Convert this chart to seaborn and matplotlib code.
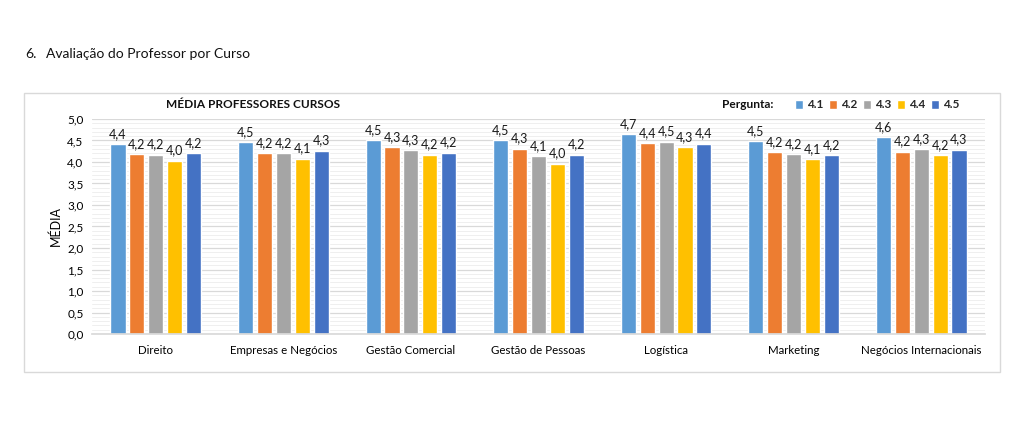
import matplotlib
matplotlib.use("Agg")
import matplotlib.pyplot as plt
import seaborn as sns
import pandas as pd
from matplotlib.patches import Rectangle, Patch
from matplotlib.ticker import MultipleLocator, FuncFormatter

cursos = ["Direito", "Empresas e Negócios", "Gestão Comercial", "Gestão de Pessoas",
          "Logística", "Marketing", "Negócios Internacionais"]
perguntas = ["4.1", "4.2", "4.3", "4.4", "4.5"]
p41 = [4.41, 4.46, 4.50, 4.51, 4.65, 4.48, 4.58]
p42 = [4.18, 4.21, 4.35, 4.31, 4.44, 4.23, 4.24]
p43 = [4.17, 4.21, 4.28, 4.14, 4.47, 4.18, 4.30]
p44 = [4.03, 4.08, 4.17, 3.96, 4.34, 4.07, 4.16]
p45 = [4.21, 4.26, 4.22, 4.17, 4.43, 4.16, 4.29]
cores = ["#5B9BD5", "#ED7D31", "#A5A5A5", "#FFC000", "#4472C4"]

rows = []
for p, vals in zip(perguntas, [p41, p42, p43, p44, p45]):
    for c, v in zip(cursos, vals):
        rows.append({"Curso": c, "Pergunta": p, "Media": v})
df = pd.DataFrame(rows)

sns.set_theme(style="white")
plt.rcParams["font.family"] = ["Lato", "DejaVu Sans"]

fig = plt.figure(figsize=(10.2, 4.37), dpi=100)
fig.patch.set_facecolor("white")

# outer frame
fig.add_artist(Rectangle((24 / 1020, 1 - 372 / 437), 976 / 1020, 279 / 437,
                         transform=fig.transFigure, fill=False, edgecolor="#D9D9D9", lw=1))
fig.text(25 / 1020, 1 - 54 / 437, "6.", fontsize=10, va="center", ha="left", color="#111111")
fig.text(46 / 1020, 1 - 54 / 437, "Avaliação do Professor por Curso", fontsize=10,
         va="center", ha="left", color="#111111")

ax = fig.add_axes([92 / 1020, 1 - 334 / 437, 893 / 1020, 215 / 437])
sns.barplot(data=df, x="Curso", y="Media", hue="Pergunta", palette=cores, ax=ax,
            width=0.74, gap=0.2, saturation=1, legend=False, errorbar=None)

for cont in ax.containers:
    labels = [f"{b.get_height():.1f}".replace(".", ",") for b in cont]
    ax.bar_label(cont, labels=labels, padding=3, fontsize=9, color="#1a1a1a")

ax.set_ylim(0, 5.0)
ax.set_xlim(-0.5, 6.5)
ax.yaxis.set_major_locator(MultipleLocator(0.5))
ax.yaxis.set_minor_locator(MultipleLocator(0.1))
ax.yaxis.set_major_formatter(FuncFormatter(lambda v, p: f"{v:.1f}".replace(".", ",")))
ax.grid(axis="y", which="major", color="#D9D9D9", lw=0.9)
ax.grid(axis="y", which="minor", color="#EFEFEF", lw=0.7)
ax.set_axisbelow(True)
for s in ["top", "right", "left"]:
    ax.spines[s].set_visible(False)
ax.spines["bottom"].set_color("#D9D9D9")
ax.tick_params(axis="both", which="both", length=0)
ax.tick_params(axis="x", pad=8, labelsize=8.3, labelcolor="#000000")
ax.tick_params(axis="y", pad=6, labelsize=8.5, labelcolor="#000000")
ax.set_xlabel("")
ax.set_ylabel("MÉDIA", fontsize=9, color="#000000", labelpad=4)

fig.text(253 / 1020, 1 - 105 / 437, "MÉDIA PROFESSORES CURSOS", fontsize=8.6,
         fontweight="bold", ha="center", va="center", color="#111111")
fig.text(722 / 1020, 1 - 105 / 437, "Pergunta:", fontsize=8.6, fontweight="bold",
         ha="left", va="center", color="#111111")
handles = [Patch(facecolor=c, label=p) for c, p in zip(cores, perguntas)]
leg = fig.legend(handles=handles, loc="center left", bbox_to_anchor=(795 / 1020, 1 - 105 / 437),
                 ncol=5, frameon=False, fontsize=8.5, handlelength=0.7, handleheight=0.7,
                 handletextpad=0.3, columnspacing=0.5, borderaxespad=0, borderpad=0)
for t in leg.get_texts():
    t.set_fontweight("bold")

fig.savefig("out.png", dpi=100, facecolor="white")
